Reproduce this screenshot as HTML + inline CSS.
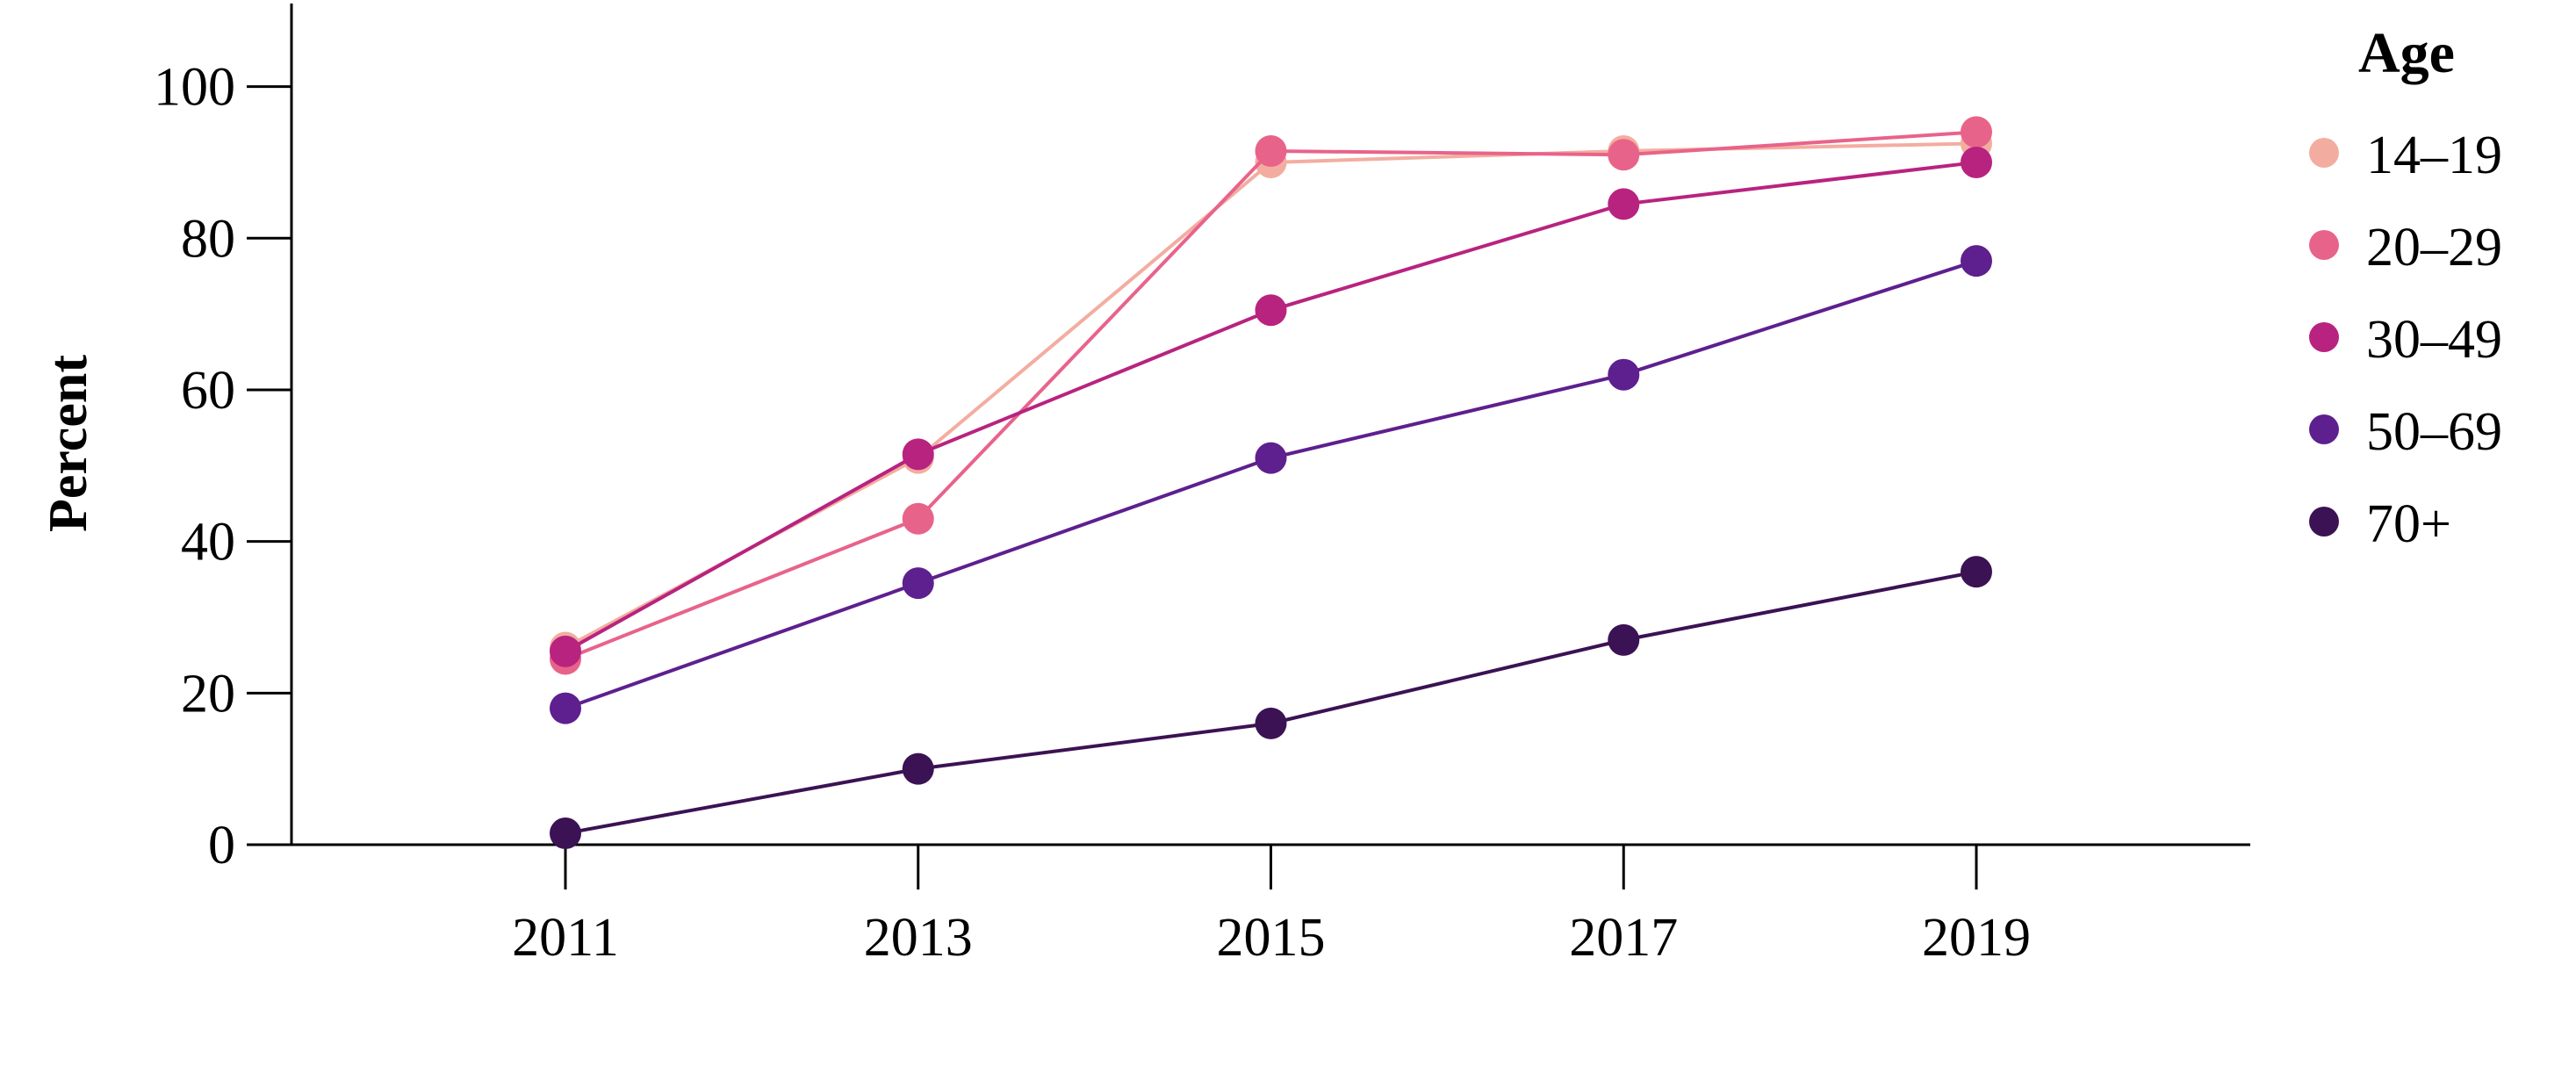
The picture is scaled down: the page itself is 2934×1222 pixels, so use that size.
<!DOCTYPE html>
<html><head><meta charset="utf-8"><style>
html,body{margin:0;padding:0;background:#fff}
svg text{font-family:"Liberation Serif",serif}
</style></head><body>
<svg id="chart" width="2934" height="1217" xmlns="http://www.w3.org/2000/svg">
<g id="axes"></g>
<g id="series"></g>
<g id="legend"></g>
</svg>
<script>
const years = [2011, 2013, 2015, 2017, 2019];
const groups = ["14\u201319", "20\u201329", "30\u201349", "50\u201369", "70+"];
const colors = ["#F3ADA0", "#E8638A", "#B8237F", "#5E1F8F", "#3B1253"];
const s1419 = [26, 51, 90, 91.5, 92.5];
const s2029 = [24.5, 43, 91.5, 91, 94];
const s3049 = [25.5, 51.5, 70.5, 84.5, 90];
const s5069 = [18, 34.5, 51, 62, 77];
const s70 = [1.5, 10, 16, 27, 36];
const yTicks = [0, 20, 40, 60, 80, 100];
const seriesData = [s1419, s2029, s3049, s5069, s70];

const NS = "http://www.w3.org/2000/svg";
const X0 = 644, X1 = 2251, Y0 = 962, Y100 = 98.6;
function xs(v){ return X0 + (v - years[0]) / (years[years.length-1] - years[0]) * (X1 - X0); }
function ys(v){ return Y0 - v / 100 * (Y0 - Y100); }
function mk(tag, attrs, parent){ const e = document.createElementNS(NS, tag); for (const k in attrs) e.setAttribute(k, attrs[k]); parent.appendChild(e); return e; }

const axes = document.getElementById('axes');
let l = mk('line', {x1:332, y1:4, x2:332, y2:Y0, stroke:'#000', 'stroke-width':3}, axes);


l = mk('line', {x1:332, y1:Y0, x2:2563, y2:Y0, stroke:'#000', 'stroke-width':3}, axes);


yTicks.forEach(t => {
  const tk = mk('line', {x1:281, y1:ys(t), x2:332, y2:ys(t), stroke:'#000', 'stroke-width':3}, axes);
  
  
  const tx = mk('text', {x:268, y:ys(t)+21, 'text-anchor':'end', 'font-size':62}, axes);
  
  
  tx.textContent = t;
});
years.forEach(yv => {
  const tk = mk('line', {x1:xs(yv), y1:Y0, x2:xs(yv), y2:1013, stroke:'#000', 'stroke-width':3}, axes);
  
  
  const tx = mk('text', {x:xs(yv), y:1088, 'text-anchor':'middle', 'font-size':62}, axes);
  
  
  tx.textContent = yv;
});
const yt = mk('text', {x:0, y:0, 'text-anchor':'middle', 'font-size':62, 'font-weight':'bold', transform:'translate(98,505) rotate(-90)'}, axes);


yt.textContent = 'Percent';

const sg = document.getElementById('series');
seriesData.forEach((vals, i) => {
  const g = mk('g', {}, sg);
  
  
  const pts = vals.map((v, j) => xs(years[j]) + ',' + ys(v)).join(' ');
  const pl = mk('polyline', {points:pts, fill:'none', stroke:colors[i], 'stroke-width':4}, g);
  
  
  vals.forEach((v, j) => {
    const c = mk('circle', {cx:xs(years[j]), cy:ys(v), r:18, fill:colors[i]}, g);
    
    
  });
});

const lg = document.getElementById('legend');
const lt = mk('text', {x:2741, y:82, 'text-anchor':'middle', 'font-size':66, 'font-weight':'bold'}, lg);


lt.textContent = 'Age';
groups.forEach((gname, i) => {
  const cy = 174 + i * 105;
  const e = mk('g', {}, lg);
  
  
  mk('circle', {cx:2647, cy:cy, r:17, fill:colors[i]}, e);
  const t = mk('text', {x:2695, y:cy+23, 'font-size':62}, e);
  t.textContent = gname;
});
</script>
</body></html>
